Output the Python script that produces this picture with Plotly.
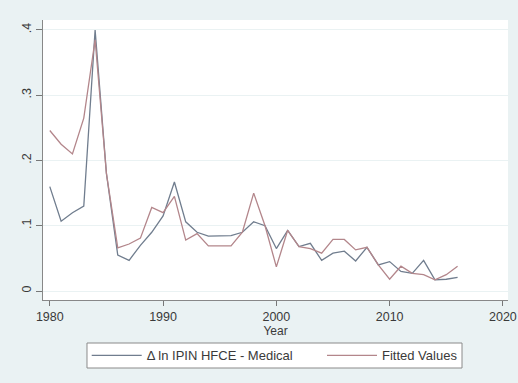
import plotly.graph_objects as go

years = list(range(1980, 2017))
actual = [0.160, 0.107, 0.120, 0.130, 0.400, 0.180, 0.055, 0.047, 0.070, 0.090,
          0.115, 0.167, 0.106, 0.090, 0.084, 0.084, 0.085, 0.090, 0.106, 0.100,
          0.065, 0.093, 0.068, 0.073, 0.047, 0.058, 0.061, 0.046, 0.067, 0.040,
          0.045, 0.030, 0.027, 0.047, 0.017, 0.018, 0.021]
fitted = [0.246, 0.225, 0.210, 0.265, 0.385, 0.180, 0.066, 0.072, 0.081, 0.128,
          0.120, 0.145, 0.078, 0.088, 0.069, 0.069, 0.069, 0.090, 0.150, 0.100,
          0.037, 0.093, 0.068, 0.065, 0.058, 0.079, 0.079, 0.063, 0.067, 0.040,
          0.018, 0.038, 0.027, 0.025, 0.017, 0.025, 0.038]
series_names = ["\u0394 ln IPIN HFCE - Medical", "Fitted Values"]
y_ticks = [0, 0.1, 0.2, 0.3, 0.4]
y_tick_labels = ["0", ".1", ".2", ".3", ".4"]
x_ticks = [1980, 1990, 2000, 2010, 2020]

font = "Liberation Sans, Arial, sans-serif"

fig = go.Figure()
fig.add_trace(go.Scatter(x=years, y=actual, mode="lines", name=series_names[0],
                         line=dict(color="#707d8e", width=1.3), legend="legend"))
fig.add_trace(go.Scatter(x=years, y=fitted, mode="lines", name=series_names[1],
                         line=dict(color="#b3868b", width=1.3), legend="legend2"))

leg_common = dict(orientation="h", yanchor="middle", y=-0.198, xanchor="left",
                  bgcolor="rgba(0,0,0,0)", borderwidth=0,
                  font=dict(size=13, color="#3a3a3a"), itemwidth=50)

fig.update_layout(
    width=518, height=383,
    margin=dict(l=43, r=10, t=20, b=83),
    paper_bgcolor="#EAF2F3",
    plot_bgcolor="#FFFFFF",
    font=dict(family=font, size=12, color="#3a3a3a"),
    showlegend=True,
    legend=dict(x=0.094, **leg_common),
    legend2=dict(x=0.6, **leg_common),
    shapes=[dict(type="rect", xref="paper", yref="paper",
                 x0=0.0946, x1=0.9011, y0=-0.2429, y1=-0.1536,
                 fillcolor="#FFFFFF", line=dict(color="#8a8a8a", width=1),
                 layer="below")],
    xaxis=dict(range=[1979.4, 2020.45], tickvals=x_ticks, ticks="outside", ticklen=5,
               tickcolor="#777777", showline=True, linecolor="#888888", linewidth=1,
               showgrid=False, zeroline=False, automargin=False,
               ticklabeloverflow="allow",
               title=dict(text="Year", standoff=0, font=dict(size=12)),
               tickfont=dict(size=12.5)),
    yaxis=dict(range=[-0.0138, 0.4153], tickvals=y_ticks, ticktext=y_tick_labels,
               ticks="outside", ticklen=6, tickcolor="#777777", tickangle=-90,
               showline=True, linecolor="#888888", linewidth=1, automargin=False,
               showgrid=True, gridcolor="#EAF2F3", gridwidth=1, zeroline=False,
               tickfont=dict(size=12.5)),
)

fig.write_html("out.html", config={"displayModeBar": False},
               post_script="document.body.style.margin='0px';")
